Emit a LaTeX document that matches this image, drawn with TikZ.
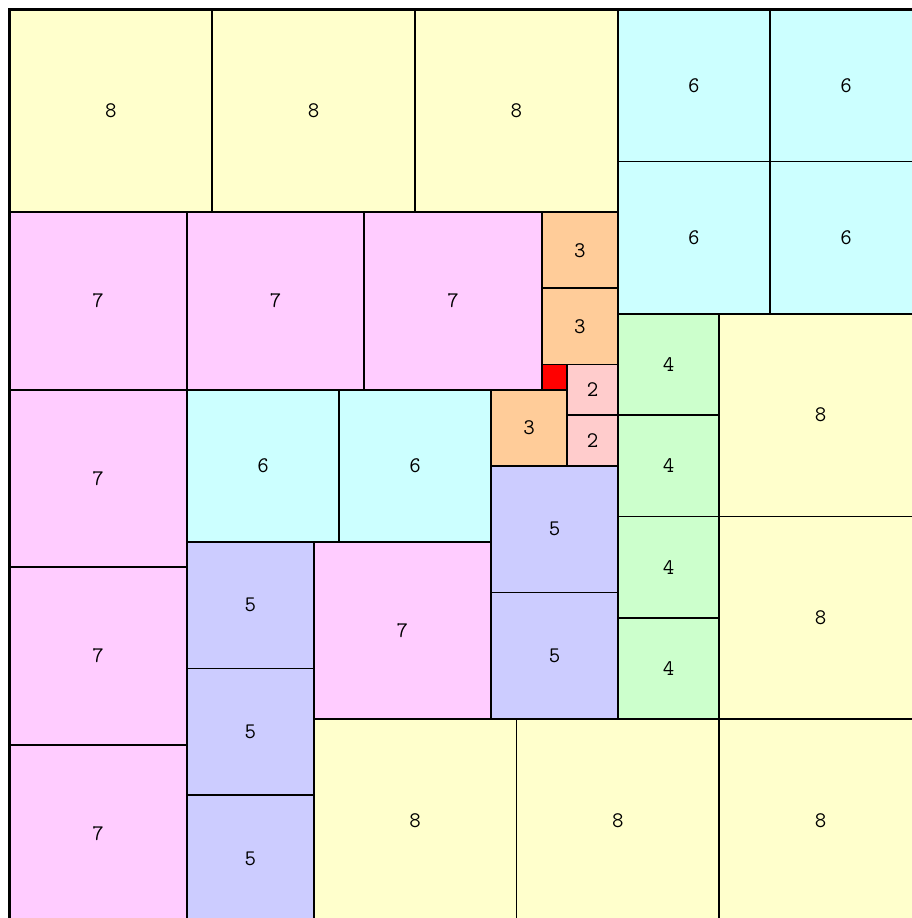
\documentclass[tikz,border=0pt]{standalone}
\usepackage{tikz}
\definecolor{c8}{HTML}{FFFFCC}
\definecolor{c7}{HTML}{FFCCFF}
\definecolor{c6}{HTML}{CCFFFF}
\definecolor{c5}{HTML}{CCCCFF}
\definecolor{c4}{HTML}{CCFFCC}
\definecolor{c3}{HTML}{FFCC99}
\definecolor{c2}{HTML}{FFCCCC}
\definecolor{c1}{HTML}{FF0000}
\begin{document}
\begin{tikzpicture}[x=1cm,y=-1cm,
  sq/.style={draw=black,line width=2pt,inner sep=0pt,outer sep=0pt,font=\ttfamily\fontsize{25}{25}\selectfont},
  sE/.style={sq,minimum size=8cm,fill=c8},
  sS/.style={sq,minimum size=7cm,fill=c7},
  sX/.style={sq,minimum size=6cm,fill=c6},
  sF/.style={sq,minimum size=5cm,fill=c5},
  sQ/.style={sq,minimum size=4cm,fill=c4},
  sT/.style={sq,minimum size=3cm,fill=c3},
  sD/.style={sq,minimum size=2cm,fill=c2},
  sO/.style={sq,minimum size=1cm,fill=c1}]
\useasboundingbox (-0.375,-0.375) rectangle (35.60,35.84);
% 8
\node[sE] (e1) at (4,4) {8};
\node[sE] (e2) at (12,4) {8};
\node[sE] (e3) at (20,4) {8};
\node[sE] (e4) at (32,16) {8};
\node[sE] (e5) at (32,24) {8};
\node[sE] (e6) at (16,32) {8};
\node[sE] (e7) at (24,32) {8};
\node[sE] (e8) at (32,32) {8};
% 7
\node[sS] (s1) at (3.5,11.5) {7};
\node[sS] (s2) at (10.5,11.5) {7};
\node[sS] (s3) at (17.5,11.5) {7};
\node[sS] (s4) at (3.5,18.5) {7};
\node[sS] (s5) at (3.5,25.5) {7};
\node[sS] (s6) at (3.5,32.5) {7};
\node[sS] (s7) at (15.5,24.5) {7};
% 6
\node[sX] (x1) at (27,3) {6};
\node[sX] (x2) at (33,3) {6};
\node[sX] (x3) at (27,9) {6};
\node[sX] (x4) at (33,9) {6};
\node[sX] (x5) at (10,18) {6};
\node[sX] (x6) at (16,18) {6};
% 5
\node[sF] (f1) at (9.5,23.5) {5};
\node[sF] (f2) at (9.5,28.5) {5};
\node[sF] (f3) at (9.5,33.5) {5};
\node[sF] (f4) at (21.5,20.5) {5};
\node[sF] (f5) at (21.5,25.5) {5};
% 4
\node[sQ] (q1) at (26,14) {4};
\node[sQ] (q2) at (26,18) {4};
\node[sQ] (q3) at (26,22) {4};
\node[sQ] (q4) at (26,26) {4};
% 3
\node[sT] (t1) at (22.5,9.5) {3};
\node[sT] (t2) at (22.5,12.5) {3};
\node[sT] (t3) at (20.5,16.5) {3};
% 2
\node[sD] (d1) at (23,15) {2};
\node[sD] (d2) at (23,17) {2};
% 1
\node[sO] (o1) at (21.5,14.5) {};
% outer border
\draw[line width=3pt] (0,0) rectangle (36,36);
\end{tikzpicture}
\end{document}
